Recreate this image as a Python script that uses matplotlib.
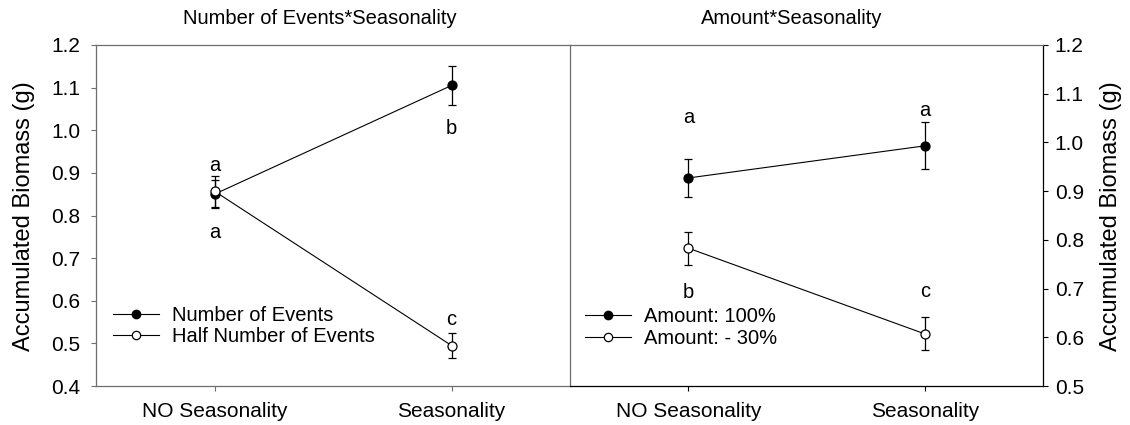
import matplotlib
matplotlib.use('Agg')
import matplotlib.pyplot as plt
from matplotlib.lines import Line2D

plt.rcParams['font.family'] = ['Liberation Sans', 'DejaVu Sans']

# [1. 데이터]
groups = ["NO Seasonality", "Seasonality"]

events_full = [0.850, 1.105]
events_full_err = [0.033, 0.046]
events_half = [0.857, 0.495]
events_half_err = [0.036, 0.030]
events_letters_full = ["a", "b"]
events_letters_half = ["a", "c"]
events_letter_y_full = [0.761, 1.005]
events_letter_y_half = [0.918, 0.557]

amount_full = [0.927, 0.993]
amount_full_err = [0.038, 0.048]
amount_cut = [0.783, 0.607]
amount_cut_err = [0.034, 0.034]
amount_letters_full = ["a", "a"]
amount_letters_cut = ["b", "c"]
amount_letter_y_full = [1.052, 1.065]
amount_letter_y_cut = [0.691, 0.693]

left_ticks = [0.4, 0.5, 0.6, 0.7, 0.8, 0.9, 1.0, 1.1, 1.2]
right_ticks = [0.5, 0.6, 0.7, 0.8, 0.9, 1.0, 1.1, 1.2]

W, H = 1130, 425
fig = plt.figure(figsize=(W / 100, H / 100), dpi=100)

def px_axes(x0, x1, y0, y1):
    return fig.add_axes([x0 / W, 1 - y1 / H, (x1 - x0) / W, (y1 - y0) / H])

ax1 = px_axes(96, 570, 45, 386)
ax2 = px_axes(570, 1043, 45, 386)
ax2.patch.set_visible(False)

gray = '#6e6e6e'
xs = [0, 1]
FS = 15

def draw_series(ax, y, err, filled):
    ax.errorbar(xs, y, yerr=err, color='black', lw=0.8, elinewidth=0.9,
                capsize=3.2, capthick=0.9, marker='o', markersize=6.5,
                markerfacecolor='black' if filled else 'white',
                markeredgecolor='black', markeredgewidth=0.9, zorder=3)

def legend_handles():
    return [Line2D([], [], color='black', lw=0.8, marker='o', markersize=6,
                   markerfacecolor='black', markeredgecolor='black'),
            Line2D([], [], color='black', lw=0.8, marker='o', markersize=6,
                   markerfacecolor='white', markeredgecolor='black',
                   markeredgewidth=0.9)]

def add_legend(ax, labels, x, y):
    ax.legend(legend_handles(), labels, loc='center left',
              bbox_to_anchor=(x, y), frameon=False, fontsize=14.5,
              handlelength=2.3, handletextpad=0.62, labelspacing=0.12,
              borderpad=0, borderaxespad=0)

# [2. 왼쪽 패널]
draw_series(ax1, events_full, events_full_err, True)
draw_series(ax1, events_half, events_half_err, False)
for x, yl, t in zip(xs, events_letter_y_full, events_letters_full):
    ax1.text(x, yl, t, ha='center', va='center', fontsize=14.5)
for x, yl, t in zip(xs, events_letter_y_half, events_letters_half):
    ax1.text(x, yl, t, ha='center', va='center', fontsize=14.5)
ax1.set_xlim(-0.5, 1.5)
ax1.set_ylim(0.4, 1.2)
ax1.set_yticks(left_ticks)
ax1.set_yticklabels([f"{v:.1f}" for v in left_ticks])
add_legend(ax1, ["Number of Events", "Half Number of Events"], 0.036, 0.176)
for s in ax1.spines.values():
    s.set_color(gray)
    s.set_linewidth(0.9)

# [3. 오른쪽 패널]
draw_series(ax2, amount_full, amount_full_err, True)
draw_series(ax2, amount_cut, amount_cut_err, False)
for x, yl, t in zip(xs, amount_letter_y_full, amount_letters_full):
    ax2.text(x, yl, t, ha='center', va='center', fontsize=14.5)
for x, yl, t in zip(xs, amount_letter_y_cut, amount_letters_cut):
    ax2.text(x, yl, t, ha='center', va='center', fontsize=14.5)
ax2.set_xlim(-0.5, 1.5)
ax2.set_ylim(0.5, 1.2)
ax2.set_yticks(right_ticks)
ax2.set_yticklabels([f"{v:.1f}" for v in right_ticks])
ax2.yaxis.tick_right()
add_legend(ax2, ["Amount: 100%", "Amount: - 30%"], 0.032, 0.172)
ax2.spines['left'].set_visible(False)
ax2.spines['top'].set_color(gray)
for k in ('bottom', 'right', 'top'):
    ax2.spines[k].set_linewidth(0.9)
ax2.spines['bottom'].set_color('black')
ax2.spines['right'].set_color('black')

for ax in (ax1, ax2):
    ax.set_xticks(xs)
    ax.set_xticklabels(groups)
    ax.tick_params(axis='both', direction='out', length=3.5, width=0.8,
                   labelsize=FS)
    ax.tick_params(axis='x', pad=8)
ax1.tick_params(axis='y', pad=7.5, color=gray)
ax1.tick_params(axis='x', color=gray)
ax2.tick_params(axis='y', pad=5)

# 제목과 축 이름
fig.text(320 / W, 1 - 18 / H, "Number of Events*Seasonality", ha='center',
         va='center', fontsize=14.5)
fig.text(792 / W, 1 - 18 / H, "Amount*Seasonality", ha='center',
         va='center', fontsize=14.5)
fig.text(24 / W, 1 - 216 / H, "Accumulated Biomass (g)", rotation=90,
         ha='center', va='center', fontsize=17)
fig.text(1111 / W, 1 - 216 / H, "Accumulated Biomass (g)", rotation=90,
         ha='center', va='center', fontsize=17)

fig.savefig("out.png", dpi=100)
